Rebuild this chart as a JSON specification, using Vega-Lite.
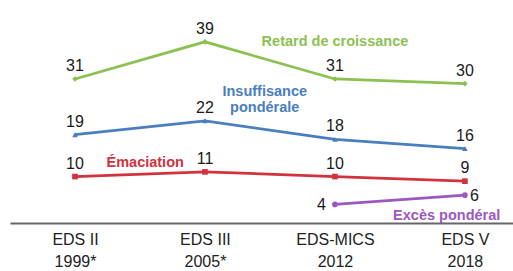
{
  "$schema": "https://vega.github.io/schema/vega-lite/v6.json",
  "width": 503,
  "height": 223,
  "autosize": {"type": "none"},
  "padding": {"left": 10, "top": 0, "right": 0, "bottom": 48},
  "background": "white",
  "config": {"view": {"stroke": null}, "font": "Liberation Sans"},
  "datasets": {
    "main": [
      {"series": "Retard de croissance", "idx": 0, "value": 31},
      {"series": "Retard de croissance", "idx": 1, "value": 39},
      {"series": "Retard de croissance", "idx": 2, "value": 31},
      {"series": "Retard de croissance", "idx": 3, "value": 30},
      {"series": "Insuffisance pondérale", "idx": 0, "value": 19},
      {"series": "Insuffisance pondérale", "idx": 1, "value": 22},
      {"series": "Insuffisance pondérale", "idx": 2, "value": 18},
      {"series": "Insuffisance pondérale", "idx": 3, "value": 16},
      {"series": "Émaciation", "idx": 0, "value": 10},
      {"series": "Émaciation", "idx": 1, "value": 11},
      {"series": "Émaciation", "idx": 2, "value": 10},
      {"series": "Émaciation", "idx": 3, "value": 9},
      {"series": "Excès pondéral", "idx": 2, "value": 4},
      {"series": "Excès pondéral", "idx": 3, "value": 6}
    ],
    "notes": [
      {"series": "Retard de croissance", "label": "Retard de croissance", "idx": 2.0, "value": 39.0},
      {"series": "Insuffisance pondérale", "label": "Insuffisance", "idx": 1.46, "value": 28.2},
      {"series": "Insuffisance pondérale", "label": "pondérale", "idx": 1.46, "value": 24.75},
      {"series": "Émaciation", "label": "Émaciation", "idx": 0.54, "value": 12.9},
      {"series": "Excès pondéral", "label": "Excès pondéral", "idx": 2.86, "value": 1.5}
    ]
  },
  "encoding": {
    "x": {
      "field": "idx", "type": "quantitative",
      "scale": {"domain": [-0.5, 3.37], "nice": false, "zero": false},
      "axis": {
        "values": [0, 1, 2, 3],
        "labelExpr": "split(['EDS II|1999*','EDS III|2005*','EDS-MICS|2012','EDS V|2018'][datum.value], '|')",
        "ticks": false, "grid": false, "title": null,
        "domainColor": "#666666", "domainWidth": 2,
        "labelFontSize": 16, "labelColor": "#222222", "labelPadding": 8,
        "labelLineHeight": 22, "labelFlush": false, "labelOverlap": false, "labelBound": false
      }
    },
    "y": {
      "field": "value", "type": "quantitative",
      "scale": {"domain": [0, 48], "nice": false},
      "axis": null
    },
    "color": {
      "field": "series", "type": "nominal", "legend": null,
      "scale": {
        "domain": ["Retard de croissance", "Insuffisance pondérale", "Émaciation", "Excès pondéral"],
        "range": ["#8cc152", "#4a7ebf", "#d0323e", "#9b59c0"]
      }
    }
  },
  "layer": [
    {
      "data": {"name": "main"},
      "mark": {"type": "line", "strokeWidth": 2.8},
      "encoding": {"detail": {"field": "series"}}
    },
    {
      "data": {"name": "main"},
      "mark": {"type": "point", "filled": true, "size": 32, "opacity": 1},
      "encoding": {
        "shape": {
          "field": "series", "type": "nominal", "legend": null,
          "scale": {
            "domain": ["Retard de croissance", "Insuffisance pondérale", "Émaciation", "Excès pondéral"],
            "range": ["diamond", "triangle-up", "square", "circle"]
          }
        }
      }
    },
    {
      "data": {"name": "main"},
      "transform": [{"filter": "datum.series != 'Excès pondéral'"}],
      "mark": {"type": "text", "fontSize": 16, "baseline": "alphabetic", "dy": -8},
      "encoding": {"text": {"field": "value"}, "color": {"value": "#1a1a1a"}}
    },
    {
      "data": {"name": "main"},
      "transform": [{"filter": "datum.series == 'Excès pondéral' && datum.idx == 2"}],
      "mark": {"type": "text", "fontSize": 16, "baseline": "middle", "align": "right", "dx": -9, "dy": 1},
      "encoding": {"text": {"field": "value"}, "color": {"value": "#1a1a1a"}}
    },
    {
      "data": {"name": "main"},
      "transform": [{"filter": "datum.series == 'Excès pondéral' && datum.idx == 3"}],
      "mark": {"type": "text", "fontSize": 16, "baseline": "middle", "align": "left", "dx": 5, "dy": 1},
      "encoding": {"text": {"field": "value"}, "color": {"value": "#1a1a1a"}}
    },
    {
      "data": {"name": "notes"},
      "mark": {"type": "text", "fontSize": 14.5, "fontWeight": "bold", "baseline": "middle", "align": "center"},
      "encoding": {"text": {"field": "label"}}
    }
  ]
}
